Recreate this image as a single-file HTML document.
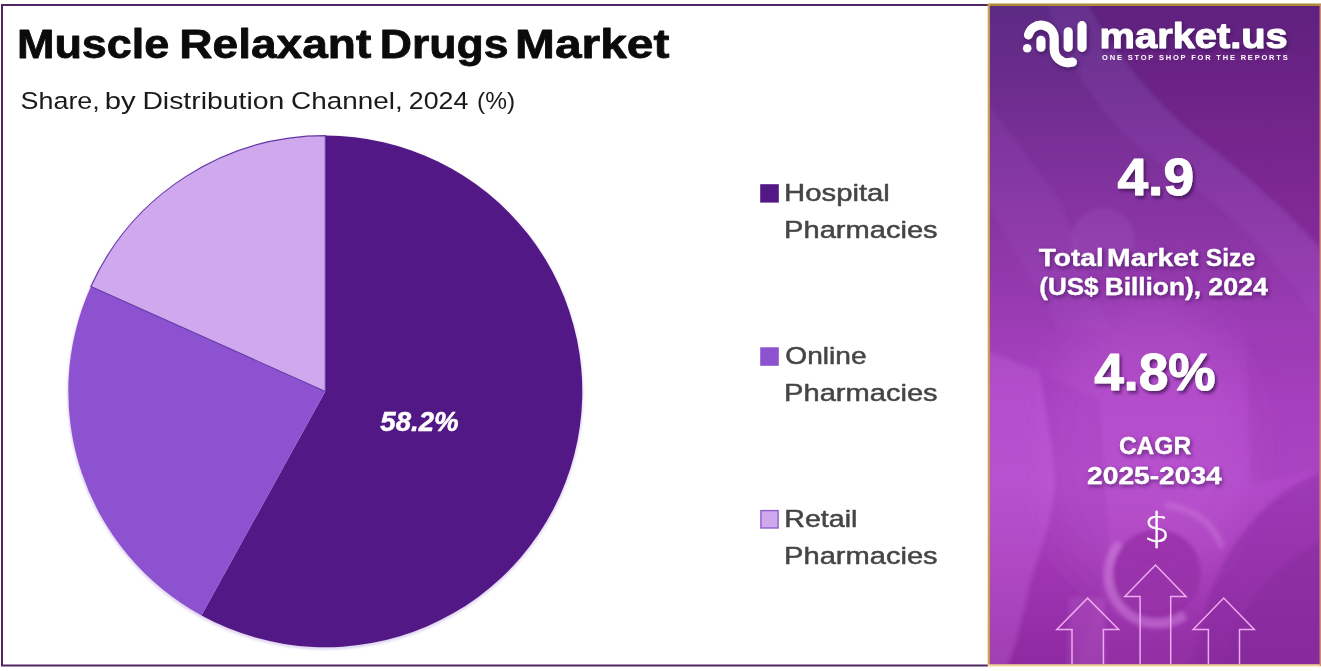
<!DOCTYPE html>
<html lang="en">
<head>
<meta charset="utf-8">
<title>Muscle Relaxant Drugs Market</title>
<style>
html,body{margin:0;padding:0;background:#fff;}
body{width:1321px;height:671px;overflow:hidden;position:relative;font-family:"Liberation Sans",sans-serif;}
svg{position:absolute;left:0;top:0;display:block;}
text{font-family:"Liberation Sans",sans-serif;}
.t{font-size:41px;font-weight:700;fill:#0b0b0b;stroke:#0b0b0b;stroke-width:0.8px;stroke-linejoin:round;}
.s{font-size:24.5px;font-weight:400;fill:#1a1a1a;}
.lg{font-size:24.5px;font-weight:400;fill:#454545;stroke:#454545;stroke-width:0.5px;stroke-linejoin:round;}
.pl{font-size:27.3px;font-weight:700;fill:#fff;font-style:italic;stroke:#fff;stroke-width:0.5px;stroke-linejoin:round;}
.mk{font-size:35px;font-weight:700;fill:#fff;stroke:#fff;stroke-width:1.0px;stroke-linejoin:round;}
.tg{font-size:7.5px;font-weight:700;fill:#fff;}
.big{font-size:52px;font-weight:700;fill:#fff;stroke:#fff;stroke-width:1.0px;stroke-linejoin:round;}
.md{font-size:24.2px;font-weight:700;fill:#fff;stroke:#fff;stroke-width:0.3px;stroke-linejoin:round;}
.dl{font-size:41px;font-weight:200;fill:#fff;font-family:'DejaVu Sans',sans-serif;stroke:#fff;stroke-width:0.4px;stroke-linejoin:round;}
</style>
</head>
<body>
<svg width="1321" height="671" viewBox="0 0 1321 671">
<defs>
<linearGradient id="pg" x1="0" y1="0" x2="0" y2="1">
<stop offset="0" stop-color="#5c2a84"/>
<stop offset="0.10" stop-color="#692c8b"/>
<stop offset="0.22" stop-color="#7a3098"/>
<stop offset="0.34" stop-color="#8a35a4"/>
<stop offset="0.43" stop-color="#9539ae"/>
<stop offset="0.60" stop-color="#ab43c4"/>
<stop offset="0.72" stop-color="#b048c8"/>
<stop offset="0.84" stop-color="#a63cb8"/>
<stop offset="1" stop-color="#902ea2"/>
</linearGradient>
<filter id="sh" x="-20%" y="-20%" width="150%" height="150%">
<feDropShadow dx="2" dy="2.5" stdDeviation="1.6" flood-color="#3a1050" flood-opacity="0.75"/>
</filter>
<filter id="sh2" x="-20%" y="-20%" width="150%" height="150%">
<feDropShadow dx="1.5" dy="2" stdDeviation="2" flood-color="#2a0a4a" flood-opacity="0.6"/>
</filter>
<filter id="bl"><feGaussianBlur stdDeviation="1.2"/></filter>
<filter id="bl12" x="-30%" y="-30%" width="160%" height="160%"><feGaussianBlur stdDeviation="22"/></filter>
<filter id="bl3" x="-10%" y="-10%" width="120%" height="120%"><feGaussianBlur stdDeviation="2.2"/></filter>
<clipPath id="pc"><rect x="990" y="6" width="329" height="658"/></clipPath>
</defs>

<!-- outer frame -->
<path d="M988 5H2V665.5H988" fill="none" stroke="#4f2566" stroke-width="2"/>

<!-- title -->
<text class="t" y="57.6" ><tspan x="16.95" textLength="152.40" lengthAdjust="spacingAndGlyphs">Muscle</tspan> <tspan x="179.30" textLength="191.95" lengthAdjust="spacingAndGlyphs">Relaxant</tspan> <tspan x="379.70" textLength="128.80" lengthAdjust="spacingAndGlyphs">Drugs</tspan> <tspan x="515.10" textLength="154.30" lengthAdjust="spacingAndGlyphs">Market</tspan></text>
<text class="s" y="108.8" ><tspan x="20.55" textLength="79.25" lengthAdjust="spacingAndGlyphs">Share,</tspan> <tspan x="104.85" textLength="30.90" lengthAdjust="spacingAndGlyphs">by</tspan> <tspan x="142.40" textLength="141.90" lengthAdjust="spacingAndGlyphs">Distribution</tspan> <tspan x="291.00" textLength="111.65" lengthAdjust="spacingAndGlyphs">Channel,</tspan> <tspan x="408.75" textLength="59.65" lengthAdjust="spacingAndGlyphs">2024</tspan> <tspan x="477.00" textLength="38.05" lengthAdjust="spacingAndGlyphs">(%)</tspan></text>

<!-- pie -->
<g>
<ellipse cx="325.3" cy="392.9" rx="258.0" ry="256.8" fill="#c9b6e6" opacity="0.55" filter="url(#bl)"/>
<path d="M325.3 391.4L325.30 135.60A257.0 255.8 0 1 1 201.49 615.56Z" fill="#521885"/>
<path d="M325.3 391.4L201.49 615.56A257.0 255.8 0 0 1 90.89 286.54Z" fill="#8c52d0"/>
<path d="M325.3 391.4L90.89 286.54A257.0 255.8 0 0 1 325.30 135.60Z" fill="#d0a8ee" stroke="#6238a8" stroke-width="1.1"/>
<text class="pl" y="431.3" ><tspan x="380.30" textLength="78.40" lengthAdjust="spacingAndGlyphs">58.2%</tspan></text>
</g>

<!-- legend -->
<rect x="760.2" y="184.2" width="18.6" height="18.4" fill="#521885"/>
<text class="lg" y="201.0" ><tspan x="784.10" textLength="105.75" lengthAdjust="spacingAndGlyphs">Hospital</tspan></text>
<text class="lg" y="237.7" ><tspan x="784.10" textLength="153.50" lengthAdjust="spacingAndGlyphs">Pharmacies</tspan></text>
<rect x="760.2" y="347.3" width="18.6" height="18.5" fill="#8c52d0"/>
<text class="lg" y="363.8" ><tspan x="785.35" textLength="81.30" lengthAdjust="spacingAndGlyphs">Online</tspan></text>
<text class="lg" y="400.6" ><tspan x="784.10" textLength="153.50" lengthAdjust="spacingAndGlyphs">Pharmacies</tspan></text>
<rect x="760.9" y="510.6" width="17.2" height="17.4" fill="#d0a8ee" stroke="#8e5fca" stroke-width="1.4"/>
<text class="lg" y="526.6" ><tspan x="784.35" textLength="73.05" lengthAdjust="spacingAndGlyphs">Retail</tspan></text>
<text class="lg" y="563.6" ><tspan x="784.10" textLength="153.50" lengthAdjust="spacingAndGlyphs">Pharmacies</tspan></text>

<!-- right panel -->
<rect x="988" y="4" width="333" height="662" fill="url(#pg)"/>
<path d="M987.8 4.8H1321" stroke="#ad8a35" stroke-width="2.4" fill="none"/>
<path d="M988.8 4V666" stroke="#caa352" stroke-width="2.2" fill="none"/>
<path d="M987.8 665.3H1321" stroke="#f0d49a" stroke-width="2.2" fill="none"/>
<path d="M1320.3 4V666" stroke="#cf8f6c" stroke-width="1.4" fill="none"/>
<g clip-path="url(#pc)">
<!-- faint photo shapes -->
<g filter="url(#bl3)">
<path d="M1085 0C1110 50 1160 110 1200 140S1290 215 1325 255V0Z" fill="#6a1468" opacity="0.22"/>
<path d="M1085 0C1110 50 1160 110 1200 140S1290 215 1325 255V330C1290 280 1240 215 1170 170S1065 60 1045 0Z" fill="#b070d8" opacity="0.11"/>
<circle cx="1103" cy="240" r="32" fill="#c890e8" opacity="0.10"/>
<polygon points="985,100 1060,200 1110,330 1060,330 985,200" fill="#b070d8" opacity="0.10"/>
<ellipse cx="1150" cy="450" rx="105" ry="150" fill="#d070e4" opacity="0.22" filter="url(#bl12)"/>
<path d="M985 350L1040 372C1048 430 1057 465 1054 492C1050 530 1037 558 1030 582L1016 640L1006 670H985Z" fill="#cc6ce4" opacity="0.26"/>
<polygon points="1070,598 1104,598 1106,670 1068,670" fill="#e090ea" opacity="0.16"/>
<path d="M1040 372C1048 430 1057 465 1054 492C1050 530 1037 558 1030 582L1016 640L1006 670H1075L1110 560L1100 400Z" fill="#7a2090" opacity="0.10"/>
<polygon points="1246,336 1325,336 1325,468 1250,486" fill="#8a2c9c" opacity="0.16"/>
<path d="M1325 470C1265 495 1228 540 1207 600L1192 670H1325Z" fill="#82269a" opacity="0.42"/>
<path d="M1325 540C1280 560 1240 600 1222 670H1325Z" fill="#7a2294" opacity="0.30"/>
<path d="M1119.5 543.5A49 49 0 0 0 1185.1 615.1" fill="none" stroke="#dc90e8" stroke-width="9" opacity="0.45"/>
<circle cx="1157" cy="573.8" r="44.5" fill="#9630a8" opacity="0.85"/>
<path d="M1165 505C1195 508 1215 525 1222 548" fill="none" stroke="#d488e2" stroke-width="7" opacity="0.35"/>
</g>
</g>

<!-- logo -->
<g fill="none" stroke="#fff" stroke-width="9" stroke-linecap="round" stroke-linejoin="round" filter="url(#sh2)">
<path d="M1028.4 35A13.1 13.1 0 0 1 1054.2 38.2V49A13.7 13.7 0 0 0 1067.9 62.7L1072.5 62"/>
<path d="M1040.9 40.3V47.2"/>
<path d="M1068.2 31.8V47.2"/>
<path d="M1082 25.6V47.4"/>
</g>
<circle cx="1027.2" cy="48.3" r="4.3" fill="#fff"/>
<text class="mk" y="47.9" filter="url(#sh2)"><tspan x="1099.60" textLength="188.15" lengthAdjust="spacingAndGlyphs">market.us</tspan></text>
<text class="tg" y="60.1" ><tspan x="1102.10" textLength="185.65" lengthAdjust="spacing">ONE STOP SHOP FOR THE REPORTS</tspan></text>

<!-- stats -->
<text class="big" y="195.4" filter="url(#sh)"><tspan x="1117.45" textLength="76.60" lengthAdjust="spacingAndGlyphs">4.9</tspan></text>
<text class="md" y="265.7" filter="url(#sh2)"><tspan x="1038.80" textLength="64.95" lengthAdjust="spacingAndGlyphs">Total</tspan> <tspan x="1107.10" textLength="91.30" lengthAdjust="spacingAndGlyphs">Market</tspan> <tspan x="1205.80" textLength="49.30" lengthAdjust="spacingAndGlyphs">Size</tspan></text>
<text class="md" y="295.0" filter="url(#sh2)"><tspan x="1039.30" textLength="59.30" lengthAdjust="spacingAndGlyphs">(US$</tspan> <tspan x="1104.65" textLength="96.40" lengthAdjust="spacingAndGlyphs">Billion),</tspan> <tspan x="1208.25" textLength="59.60" lengthAdjust="spacingAndGlyphs">2024</tspan></text>
<text class="big" y="390.3" filter="url(#sh)"><tspan x="1094.25" textLength="121.35" lengthAdjust="spacingAndGlyphs">4.8%</tspan></text>
<text class="md" y="454" filter="url(#sh2)"><tspan x="1118.90" textLength="72.25" lengthAdjust="spacingAndGlyphs">CAGR</tspan></text>
<text class="md" y="484" filter="url(#sh2)"><tspan x="1087.05" textLength="134.75" lengthAdjust="spacingAndGlyphs">2025-2034</tspan></text>
<text class="dl" y="542.3" ><tspan x="1144.10" textLength="25.95" lengthAdjust="spacingAndGlyphs">$</tspan></text>

<!-- arrows -->
<g fill="none" stroke="#eeaaee" stroke-width="1.5" stroke-linejoin="miter" clip-path="url(#pc)">
<path d="M1140.1 670V596.4H1124.8L1155.5 565L1186 596.4H1170.7V670"/>
<path d="M1072 670V629.5H1056.8L1087.6 598.1L1118.7 629.5H1103.4V670"/>
<path d="M1208.4 670V629.5H1193.1L1223.7 598.1L1254.3 629.5H1239.5V670"/>
</g>
</svg>
</body>
</html>
